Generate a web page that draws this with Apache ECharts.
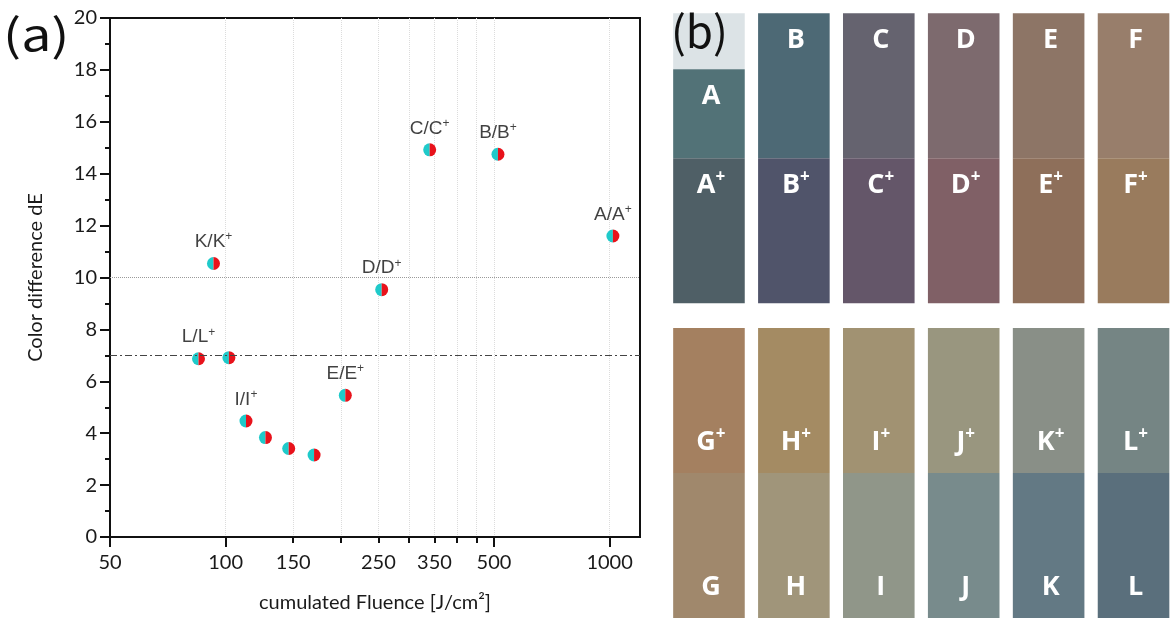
<!DOCTYPE html>
<html>
<head>
<meta charset="utf-8">
<script src="https://cdn.jsdelivr.net/npm/echarts@6/dist/echarts.min.js"></script>
<style>
  html, body { margin: 0; padding: 0; background: #fff; }
  #chart { width: 1176px; height: 618px; }
</style>
</head>
<body>
<div id="chart"></div>
<script>
// (a) colour difference against cumulated fluence, one point per sample
const samples = ['A', 'B', 'C', 'D', 'E', 'F', 'G', 'H', 'I', 'J', 'K', 'L'];
const fluence = [1020, 512, 340, 255, 205, 170, 146, 127, 113, 102, 93, 85];
const deltaE = [11.6, 14.75, 14.92, 9.53, 5.46, 3.16, 3.41, 3.83, 4.47, 6.91, 10.54, 6.87];
const labelled = ['A', 'B', 'C', 'D', 'E', 'I', 'K', 'L'];
const xLabelValues = [50, 100, 150, 250, 350, 500, 1000];
const xMajorTicks = [50, 100, 500, 1000];
const xMinorTicks = [150, 200, 250, 300, 350, 400, 450];
const refLevels = [10, 7];

// (b) swatches: untreated (X) and treated (X+) colour of each sample
const baseColors = ['#527277', '#4d6975', '#65636f', '#7d6a6e', '#8d7566', '#987e6b',
                    '#a0886c', '#a0957a', '#909689', '#788b8c', '#637984', '#5a6f7c'];
const plusColors = ['#4f5f66', '#50546a', '#645669', '#806066', '#8e6f5a', '#997b5d',
                    '#a48060', '#a48b63', '#a19272', '#99967f', '#898f87', '#758584'];

const points = samples.map((s, i) => ({ name: s, value: [fluence[i], deltaE[i]] }));

// swatch cells: [column, row, isPlus, sampleIndex]
const cells = [];
samples.forEach((s, i) => {
    cells.push([i % 6, Math.floor(i / 6), 0, i]);
    cells.push([i % 6, Math.floor(i / 6), 1, i]);
});

const tickFont = { fontFamily: 'Lato', fontSize: 20, color: '#1a1a1a' };
const LEFT_HALF = 'path://M10,0 A10,10 0 0,0 10,20 Z';
const RIGHT_HALF = 'path://M0,0 A10,10 0 0,1 0,20 Z';

function renderSwatch(params, api) {
    const col = api.value(0), row = api.value(1), plus = api.value(2), idx = api.value(3);
    const gap = 0.17;
    let y0, y1;
    if (row === 0) {
        y0 = plus ? 1 : 0;
        y1 = y0 + 1;
    } else {
        y0 = 2 + gap + (plus ? 0 : 1);
        y1 = y0 + 1;
    }
    const band = api.size([1, 0])[0];
    const w = band * 0.843;
    const topLeft = api.coord([col, y0]);
    const bottom = api.coord([col, y1])[1];
    const x = topLeft[0] - w / 2;
    const children = [];
    let rectTop = topLeft[1];
    if (row === 0 && !plus && idx === 0) {
        // light strip above A (holds the panel letter)
        const cut = api.coord([col, 0.386])[1];
        children.push({ type: 'rect', shape: { x: x, y: rectTop, width: w, height: cut - rectTop },
            style: { fill: '#dce3e6' } });
        rectTop = cut;
    }
    children.push({ type: 'rect', shape: { x: x, y: rectTop, width: w, height: bottom - rectTop },
        style: { fill: plus ? plusColors[idx] : baseColors[idx] } });
    const ty = row === 0 ? rectTop + 27 : bottom - 31;
    children.push({
        type: 'text',
        style: {
            text: plus ? '{b|' + samples[idx] + '}{s|+}' : '{b|' + samples[idx] + '}',
            x: topLeft[0] + 2, y: ty, align: 'center', verticalAlign: 'middle',
            rich: {
                b: { fontFamily: 'Open Sans', fontWeight: 'bold', fontSize: 27, fill: '#fff', lineHeight: 30 },
                s: { fontFamily: 'Open Sans', fontWeight: 'bold', fontSize: 17, fill: '#fff',
                     lineHeight: 30, padding: [0, 0, 16, 0] }
            }
        }
    });
    return { type: 'group', children: children };
}

const chart = echarts.init(document.getElementById('chart'));
const option = {
    backgroundColor: '#fff',
    animation: false,
    graphic: [
        { type: 'text', left: 3, top: 12, style: { text: '(a)', fontFamily: 'Noto Sans CJK JP', fontSize: 44, fill: '#111' }, scaleX: 1.22 },
        { type: 'text', left: 671, top: 9, z: 100, style: { text: '(b)', fontFamily: 'Noto Sans CJK JP', fontSize: 44, fill: '#111' } }
    ],
    grid: [
        { left: 110, top: 18, width: 530, height: 526, show: true, borderColor: '#111', borderWidth: 2 },
        { left: 666.5, top: 13.3, width: 522.6, height: 604.7 }
    ],
    xAxis: [
        {
            type: 'log', gridIndex: 0, min: 50, max: 1200, logBase: 10,
            name: 'cumulated Fluence [J/cm²]', nameLocation: 'middle', nameGap: 56,
            nameTextStyle: { fontFamily: 'Lato', fontSize: 20, color: '#1a1a1a' },
            axisLine: { lineStyle: { color: '#111', width: 2 } },
            axisTick: { customValues: xMajorTicks, length: 10, lineStyle: { color: '#111', width: 2 } },
            axisLabel: Object.assign({ customValues: xLabelValues, margin: 16, formatter: v => String(v) }, tickFont),
            splitLine: { show: true, lineStyle: { color: '#dcdcdc', type: 'dotted', width: 1 } },
            minorTick: { show: false }
        },
        {
            type: 'log', gridIndex: 0, min: 50, max: 1200, logBase: 10, position: 'bottom',
            axisLine: { show: false },
            axisTick: { customValues: xMinorTicks, length: 6, lineStyle: { color: '#111', width: 2 } },
            axisLabel: { show: false },
            splitLine: { show: true, lineStyle: { color: '#dcdcdc', type: 'dotted', width: 1 } }
        },
        {
            type: 'category', gridIndex: 1, data: [0, 1, 2, 3, 4, 5], show: false
        }
    ],
    yAxis: [
        {
            type: 'value', gridIndex: 0, min: 0, max: 20, interval: 2,
            name: 'Color difference dE', nameLocation: 'middle', nameGap: 64,
            nameTextStyle: { fontFamily: 'Lato', fontSize: 20, color: '#1a1a1a' },
            axisLine: { show: true, lineStyle: { color: '#111', width: 2 } },
            axisTick: { show: true, length: 10, lineStyle: { color: '#111', width: 2 } },
            minorTick: { show: true, splitNumber: 2, length: 5, lineStyle: { color: '#111', width: 2 } },
            axisLabel: Object.assign({ margin: 13 }, tickFont),
            splitLine: { show: false }
        },
        {
            type: 'value', gridIndex: 1, min: 0, max: 4.17, inverse: true, show: false
        }
    ],
    series: [
        {
            type: 'scatter', xAxisIndex: 0, yAxisIndex: 0, data: points,
            symbol: LEFT_HALF, symbolSize: [6.5, 13], symbolOffset: [-3.25, 0],
            itemStyle: { color: '#1fcaca', opacity: 1 }, z: 4,
            markLine: {
                silent: true, symbol: 'none', label: { show: false },
                data: refLevels.map((v, i) => ({
                    yAxis: v,
                    lineStyle: i === 0 ? { color: '#9a9a9a', type: 'dotted', width: 1 }
                                       : { color: '#444', type: [7, 3, 2, 3], width: 1 }
                }))
            }
        },
        {
            type: 'scatter', xAxisIndex: 0, yAxisIndex: 0, data: points,
            symbol: RIGHT_HALF, symbolSize: [6.5, 13], symbolOffset: [3.25, 0],
            itemStyle: { color: '#e8121b', opacity: 1 }, z: 4
        },
        {
            type: 'scatter', xAxisIndex: 0, yAxisIndex: 0, data: points,
            symbolSize: 13, itemStyle: { color: 'rgba(0,0,0,0)' }, z: 5,
            label: {
                show: true, position: 'top', distance: 4,
                formatter: p => labelled.indexOf(p.name) >= 0 ? '{n|' + p.name + '/' + p.name + '}{s|+}' : '',
                rich: {
                    n: { fontFamily: 'Liberation Sans', fontSize: 19, color: '#111', lineHeight: 22 },
                    s: { fontFamily: 'Liberation Sans', fontSize: 12, color: '#111', verticalAlign: 'top', lineHeight: 22, padding: [0, 0, 8, 0] }
                }
            }
        },
        {
            type: 'custom', xAxisIndex: 2, yAxisIndex: 1, data: cells,
            renderItem: renderSwatch, silent: true, clip: false
        }
    ]
};
chart.setOption(option);
</script>
</body>
</html>
